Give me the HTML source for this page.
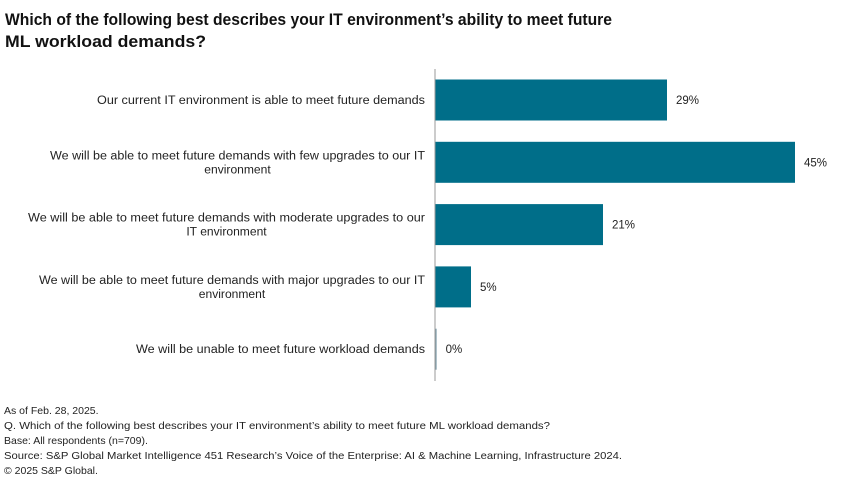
<!DOCTYPE html>
<html><head><meta charset="utf-8"><style>
body{margin:0;background:#fff;}
svg{display:block;font-family:"Liberation Sans",sans-serif;}
</style></head><body>
<svg id="chart" width="850" height="489" viewBox="0 0 850 489">
<g font-weight="bold" font-size="17" fill="#111">
<text x="5" y="25" textLength="607" lengthAdjust="spacingAndGlyphs">Which of the following best describes your IT environment’s ability to meet future</text>
<text x="5" y="47" textLength="201" lengthAdjust="spacingAndGlyphs">ML workload demands?</text>
</g>
<g id="bars"></g>
<line x1="435" y1="69" x2="435" y2="381" stroke="#999" stroke-width="1"/>
<g font-size="10.5" fill="#222">
<text x="4" y="414">As of Feb. 28, 2025.</text>
<text x="4" y="429" textLength="546" lengthAdjust="spacingAndGlyphs">Q. Which of the following best describes your IT environment’s ability to meet future ML workload demands?</text>
<text x="4" y="444">Base: All respondents (n=709).</text>
<text x="4" y="459" textLength="618" lengthAdjust="spacingAndGlyphs">Source: S&amp;P Global Market Intelligence 451 Research’s Voice of the Enterprise: AI &amp; Machine Learning, Infrastructure 2024.</text>
<text x="4" y="474">© 2025 S&amp;P Global.</text>
</g>
</svg>
<script>
const categories = [
 ["Our current IT environment is able to meet future demands"],
 ["We will be able to meet future demands with few upgrades to our IT","environment"],
 ["We will be able to meet future demands with moderate upgrades to our","IT environment"],
 ["We will be able to meet future demands with major upgrades to our IT","environment"],
 ["We will be unable to meet future workload demands"]
];
const values = [29, 45, 21, 4.5, 0.2];
const valueLabels = ["29%","45%","21%","5%","0%"];

const NS="http://www.w3.org/2000/svg";
const x0=435, pxPer=8.0, labelRight=425;
const labelLeftLayout=[97,50,28,39,136];
function xScale(v){return x0+v*pxPer;}
function yCenter(i){return 100+i*62.3;}
const g=document.getElementById('bars');
categories.forEach((lines,i)=>{
 const yc=yCenter(i);
 const r=document.createElementNS(NS,'rect');
 r.setAttribute('x',x0);r.setAttribute('y',yc-20.5);
 r.setAttribute('width',Math.max(1,xScale(values[i])-x0));r.setAttribute('height',41);
 r.setAttribute('fill',values[i]<1?'#7a9aa8':'#006e89');
 
 
 g.appendChild(r);
 const vl=document.createElementNS(NS,'text');
 vl.setAttribute('x',Math.max(xScale(values[i]),x0+1)+9);vl.setAttribute('y',yc+4);
 vl.setAttribute('font-size','11.5');vl.setAttribute('fill','#222');
 vl.textContent=valueLabels[i];
 
 
 g.appendChild(vl);
 const w1=labelRight-labelLeftLayout[i];
 const t1=document.createElementNS(NS,'text');
 t1.setAttribute('font-size','11.5');t1.setAttribute('fill','#222');
 
 
 t1.setAttribute('x',labelRight);t1.setAttribute('text-anchor','end');
 t1.setAttribute('y',lines.length===1?yc+4:yc-3);
 t1.setAttribute('textLength',w1);t1.setAttribute('lengthAdjust','spacingAndGlyphs');
 t1.textContent=lines[0];
 g.appendChild(t1);
 if(lines.length>1){
  const t2=document.createElementNS(NS,'text');
  t2.setAttribute('font-size','11.5');t2.setAttribute('fill','#222');
  
  
  t2.setAttribute('x',labelRight-w1/2);t2.setAttribute('y',yc+11);t2.setAttribute('text-anchor','middle');
  t2.textContent=lines[1];
  g.appendChild(t2);
  const w2=t2.getComputedTextLength()*1.05;
  t2.setAttribute('textLength',w2);t2.setAttribute('lengthAdjust','spacingAndGlyphs');
 }
});
</script>
</body></html>
